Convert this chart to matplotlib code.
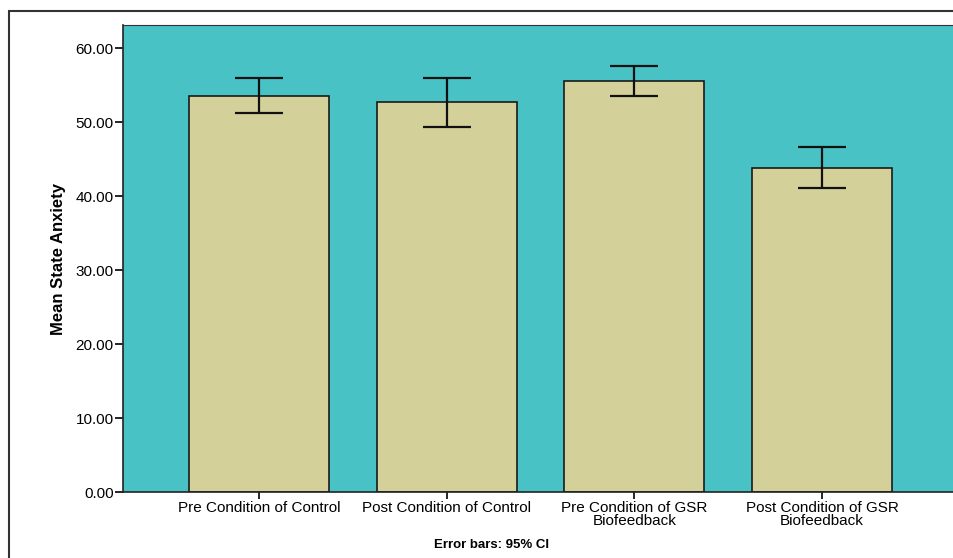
import matplotlib
matplotlib.use("Agg")
import matplotlib.pyplot as plt
from matplotlib.patches import Rectangle

# Data
categories = ["Pre Condition of Control", "Post Condition of Control",
              "Pre Condition of GSR\nBiofeedback", "Post Condition of GSR\nBiofeedback"]
means = [53.6, 52.75, 55.6, 43.85]
ci_low = [51.25, 49.4, 53.55, 41.1]
ci_high = [55.95, 56.0, 57.65, 46.6]
yticks = [0, 10, 20, 30, 40, 50, 60]

plt.rcParams['font.family'] = ['Liberation Sans', 'DejaVu Sans']

fig = plt.figure(figsize=(9.54, 5.58), dpi=100)
ax = fig.add_axes([0.1292, 0.1177, 0.8708, 0.8375])
ax.set_facecolor("#48C2C5")

x = list(range(len(categories)))
err = [[m - lo for m, lo in zip(means, ci_low)],
       [hi - m for m, hi in zip(means, ci_high)]]
ax.bar(x, means, width=0.746, color="#D3D199", edgecolor="#1a1a1a", linewidth=1.2, zorder=2)
ax.errorbar(x, means, yerr=err, fmt="none", ecolor="#111111", elinewidth=1.6,
            capsize=17, capthick=1.6, zorder=3)

ax.set_xlim(-0.723, 3.703)
ax.set_ylim(0, 63.15)
ax.set_yticks(yticks)
ax.set_yticklabels(["%.2f" % v for v in yticks], fontsize=11)
ax.set_xticks(x)
ax.set_xticklabels(categories, fontsize=11, linespacing=0.92)
ax.tick_params(axis="y", length=6, width=1.2, direction="out", pad=1)
ax.tick_params(axis="x", length=5, width=1.2, direction="out", pad=1)

for s in ["left", "bottom"]:
    ax.spines[s].set_color("#222222")
    ax.spines[s].set_linewidth(1.2)
ax.spines["top"].set_color("#333333")
ax.spines["right"].set_visible(False)

ax.set_ylabel("Mean State Anxiety", fontsize=12, fontweight="bold",
              family=["Liberation Sans Narrow", "Liberation Sans", "DejaVu Sans"])
ax.yaxis.set_label_coords(-0.069, 0.5)

fig.text(0.515, 0.024, "Error bars: 95% CI", fontsize=9.5, fontweight="bold",
         ha="center", va="center")

# outer frame around the chart
fig.patches.append(Rectangle((0.0094, -0.2), 2.0, 1.1803,
                             transform=fig.transFigure, fill=False,
                             edgecolor="#333333", linewidth=1.5))

fig.savefig("out.png", dpi=100)
